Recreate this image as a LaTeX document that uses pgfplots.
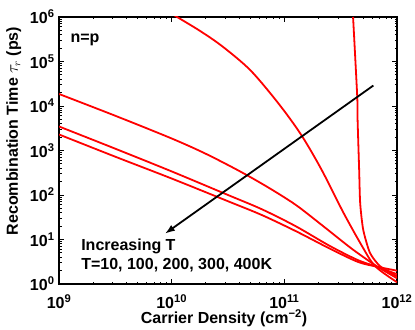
\documentclass[border=0pt]{standalone}
\usepackage{fontspec}
\setmainfont{Liberation Sans}
\usepackage{pgfplots}
\pgfplotsset{compat=1.18}
\usetikzlibrary{arrows.meta}

\begin{document}
\fontsize{16bp}{19bp}\selectfont\bfseries
\begin{tikzpicture}
  \begin{axis}[
      scale only axis,
      width  = 338bp,
      height = 267bp,
      xmode = log, ymode = log,
      xmin = 1e9, xmax = 1e12,
      ymin = 1, ymax = 1e6,
      axis line style = {line width=1.2bp},
      every tick/.style = {black, line width=0.8bp},
      major tick length = 5bp,
      minor tick length = 2.5bp,
      log number format basis/.code 2 args = {#1\textsuperscript{\pgfmathprintnumber[assume math mode=true]{#2}}},
      xticklabel style = {inner sep=1bp, yshift=-9.5bp},
      yticklabel style = {xshift=1bp},
      xlabel = {Carrier Density (cm\textsuperscript{\textminus2})},
      ylabel = {Recombination Time $\tau_r$ (ps)},
      label style = {font=\fontsize{16bp}{19bp}\selectfont\bfseries},
      xlabel style = {inner sep=1bp, yshift=1.5bp, xshift=-4bp},
      every axis y label/.append style = {at={(ticklabel cs:0.573)}},
      ylabel style = {yshift=-2bp},
      clip = true,
    ]
    % T = 400 K
    \addplot[red, line width=1.8bp, smooth] coordinates {
      (1e9, 2291) (3.162e9, 724.4) (1e10, 234.4) (3.162e10, 72.44)
      (6.310e10, 35.48) (1.259e11, 15.49) (2.512e11, 6.310) (4.467e11, 3.162)
      (6.607e11, 2.455) (1e12, 1.995)
    };
    % T = 300 K
    \addplot[red, line width=1.8bp, smooth] coordinates {
      (1e9, 3467) (3.162e9, 1096) (1e10, 338.8) (3.162e10, 100)
      (6.310e10, 47.86) (1.259e11, 19.95) (2.512e11, 7.244) (4.467e11, 3.467)
      (6.607e11, 2.455) (1e12, 1.660)
    };
    % T = 200 K
    \addplot[red, line width=1.8bp, smooth] coordinates {
      (1e9, 18620) (3.162e9, 6026) (1e10, 1862) (1.995e10, 851.1)
      (3.981e10, 346.7) (7.079e10, 151.4) (1.259e11, 60.26) (2.239e11, 19.50)
      (3.981e11, 6.166) (6.607e11, 2.512) (1e12, 1.349)
    };
    % T = 100 K
    \addplot[red, line width=1.8bp, smooth] coordinates {
      (8.913e9, 1.413e6) (1.117e10, 1e6) (1.778e10, 4.898e5) (2.818e10, 2.188e5)
      (5.012e10, 6.310e4) (8.913e10, 1.122e4) (1.413e11, 2239) (2.138e11, 371.5)
      (3.350e11, 39.81) (4.898e11, 7.079) (6.397e11, 2.512) (1e12, 1.096)
    };
    % T = 10 K
    \addplot[red, line width=1.8bp, smooth, tension=0.4] coordinates {
      (4.074e11, 1e6) (4.436e11, 16220) (4.467e11, 5012) (4.613e11, 371.5)
      (4.710e11, 66.07) (5.012e11, 16.6) (5.754e11, 5.012) (7.079e11, 2.512)
      (1e12, 1.479)
    };

    \draw[black, line width=1.8bp, -{Latex[length=10bp,width=7bp]}]
      (axis cs:6.166e11,28840) -- (axis cs:8.71e9,13.49);
    \node[anchor=base west, inner sep=0pt] at (axis cs:1.26e9,2.63e5) {n=p};
    \node[anchor=base west, inner sep=0pt] at (axis cs:1.57e9,5.75) {Increasing T};
    \node[anchor=base west, inner sep=0pt] at (axis cs:1.57e9,2.12) {T=10, 100, 200, 300, 400K};
  \end{axis}
  \pgfresetboundingbox
  \path[use as bounding box] (current axis.south west) ++(-59bp,-46bp) rectangle ++(415bp,330bp);
\end{tikzpicture}
\end{document}
